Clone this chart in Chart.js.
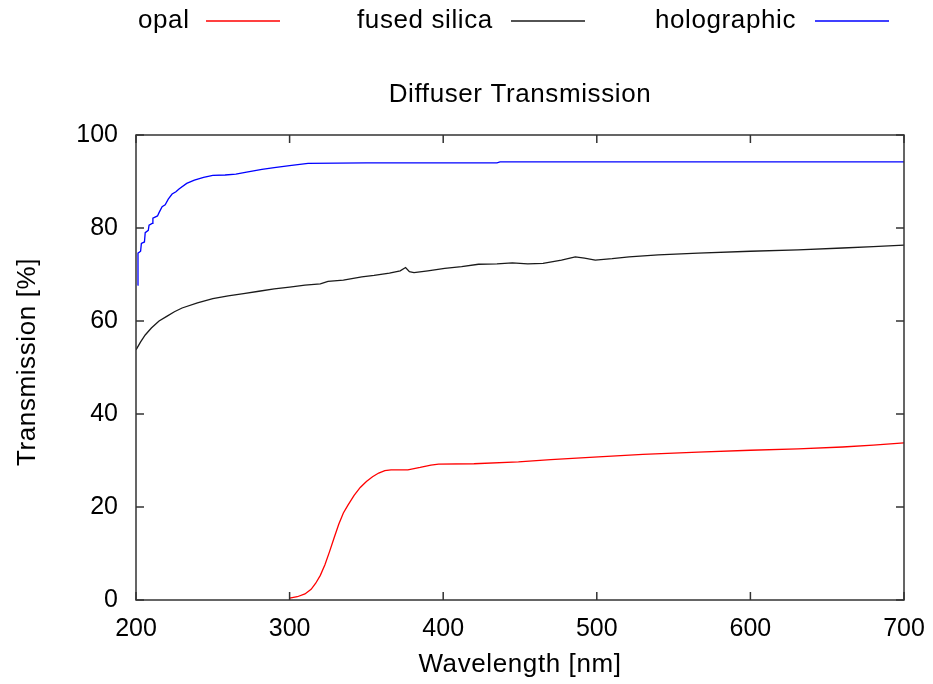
<!DOCTYPE html>
<html>
<head>
<meta charset="utf-8">
<script src="https://cdn.jsdelivr.net/npm/chart.js@4/dist/chart.umd.min.js"></script>
<style>
html,body{margin:0;padding:0;background:#fff;}
#wrap{width:933px;height:684px;position:relative;}
</style>
</head>
<body>
<div id="wrap"><canvas id="c" width="933" height="684"></canvas></div>
<script>
// ---- data ----
const chartTitle = "Diffuser Transmission";
const xTitle = "Wavelength [nm]";
const yTitle = "Transmission [%]";
const seriesNames = ["opal", "fused silica", "holographic"];
const seriesColors = ["#ff0000", "#1a1a1a", "#0000ff"];

const opalWl = [300,305,310,314,317,320,323,326,329,332,335,338,342,346,350,354,358,362,366,377,385,392,397,420,449,470,501,530,566,600,631,660,680,700];
const opalT  = [0.4,0.7,1.3,2.3,3.6,5.3,7.6,10.4,13.4,16.3,18.7,20.4,22.5,24.2,25.5,26.5,27.3,27.8,28,28,28.5,29,29.2,29.3,29.7,30.2,30.8,31.3,31.8,32.2,32.5,32.9,33.3,33.8];

const silicaWl = [200,203,206,210,215,220,225,230,240,250,260,270,280,290,300,310,320,325,335,347,355,365,372,375.5,378,381,390,401,412,423,435,445,455,465,477,486,492,499,510,521,540,566,600,631,660,680,700];
const silicaT  = [53.8,55.5,57,58.5,60,61,62,62.8,63.9,64.8,65.4,65.9,66.4,66.9,67.3,67.7,68.0,68.5,68.8,69.5,69.8,70.3,70.8,71.5,70.6,70.4,70.8,71.3,71.7,72.2,72.3,72.5,72.3,72.4,73.1,73.8,73.5,73.1,73.4,73.8,74.2,74.6,75.0,75.3,75.7,76.0,76.3];

const holoWl = [201,201.3,203,203.5,205.5,206,208,208.5,210.5,211,214,215,217,219,221,223.5,226,228,233,238,244,250,258,265,272,282,290,300,312,350,435,437,700];
const holoT  = [67.7,74.6,75,76.7,77,79,79.5,80.6,81,82.1,82.6,83.3,84.6,85,86.2,87.3,87.8,88.4,89.6,90.3,90.9,91.3,91.4,91.6,92.0,92.6,93.0,93.4,93.9,94.0,94.0,94.2,94.2];

const xTicks = [200,300,400,500,600,700];
const yTicks = [0,20,40,60,80,100];

const toPts = (xs, ys) => xs.map((x, i) => ({x: x, y: ys[i]}));

const FONT = "'Liberation Sans', Arial, sans-serif";
const TEXT_FONT = '26px ' + FONT;
const SPACING = '0.6px';

const framePlugin = {
  id: 'frame',
  beforeDraw(chart) {
    const ctx = chart.ctx;
    ctx.save();
    ctx.fillStyle = '#fff';
    ctx.fillRect(0, 0, chart.width, chart.height);
    ctx.restore();
  },
  afterDraw(chart) {
    const ctx = chart.ctx;
    const a = chart.chartArea;
    const xs = chart.scales.x, ys = chart.scales.y;
    ctx.save();
    ctx.strokeStyle = '#333';
    ctx.lineWidth = 1.5;
    ctx.strokeRect(a.left, a.top, a.right - a.left, a.bottom - a.top);
    const tl = 8;
    ctx.beginPath();
    xs.ticks.forEach(t => {
      const p = xs.getPixelForValue(t.value);
      ctx.moveTo(p, a.bottom); ctx.lineTo(p, a.bottom - tl);
      ctx.moveTo(p, a.top); ctx.lineTo(p, a.top + tl);
    });
    ys.ticks.forEach(t => {
      const p = ys.getPixelForValue(t.value);
      ctx.moveTo(a.left, p); ctx.lineTo(a.left + tl, p);
      ctx.moveTo(a.right, p); ctx.lineTo(a.right - tl, p);
    });
    ctx.stroke();

    ctx.fillStyle = '#000';
    ctx.font = TEXT_FONT;
    if ('letterSpacing' in ctx) ctx.letterSpacing = SPACING;
    ctx.textAlign = 'center';
    ctx.textBaseline = 'middle';
    // title
    ctx.fillText(chartTitle, (a.left + a.right) / 2, 95);
    // x axis title
    ctx.fillText(xTitle, (a.left + a.right) / 2, 665);
    // y axis title
    ctx.save();
    ctx.translate(28, 362);
    ctx.rotate(-Math.PI / 2);
    ctx.fillText(yTitle, 0, 0);
    ctx.restore();

    // legend (gnuplot style: text then sample line)
    const legendX = [138, 357, 655];
    const legendLineX = [206, 511, 815];
    ctx.textAlign = 'left';
    chart.data.datasets.forEach((ds, i) => {
      ctx.fillStyle = '#000';
      ctx.fillText(ds.label, legendX[i], 21);
      ctx.strokeStyle = ds.borderColor;
      ctx.lineWidth = 1.3;
      ctx.beginPath();
      ctx.moveTo(legendLineX[i], 21);
      ctx.lineTo(legendLineX[i] + 74, 21);
      ctx.stroke();
    });
    ctx.restore();
  }
};

new Chart(document.getElementById('c'), {
  type: 'line',
  data: {
    datasets: [
      {label: seriesNames[0], data: toPts(opalWl, opalT), borderColor: seriesColors[0]},
      {label: seriesNames[1], data: toPts(silicaWl, silicaT), borderColor: seriesColors[1]},
      {label: seriesNames[2], data: toPts(holoWl, holoT), borderColor: seriesColors[2]}
    ]
  },
  options: {
    responsive: false,
    animation: false,
    devicePixelRatio: 1,
    layout: {padding: {top: 135, right: 29, left: 0, bottom: 0}},
    elements: {
      point: {radius: 0},
      line: {borderWidth: 1.3, tension: 0, fill: false}
    },
    plugins: {
      legend: {display: false},
      title: {display: false},
      tooltip: {enabled: false}
    },
    scales: {
      x: {
        type: 'linear',
        min: 200, max: 700,
        afterBuildTicks: s => { s.ticks = xTicks.map(v => ({value: v})); },
        afterFit: s => { s.height = 84; s.paddingLeft = 0; s.paddingRight = 0; },
        grid: {display: false, drawTicks: false},
        border: {display: false},
        ticks: {color: '#000', font: {family: FONT, size: 25}, padding: 14, maxRotation: 0},
        title: {display: false}
      },
      y: {
        type: 'linear',
        min: 0, max: 100,
        afterBuildTicks: s => { s.ticks = yTicks.map(v => ({value: v})); },
        afterFit: s => { s.width = 136; s.paddingTop = 0; s.paddingBottom = 0; },
        grid: {display: false, drawTicks: false},
        border: {display: false},
        ticks: {color: '#000', font: {family: FONT, size: 25}, padding: 18},
        title: {display: false}
      }
    }
  },
  plugins: [framePlugin]
});
</script>
</body>
</html>
